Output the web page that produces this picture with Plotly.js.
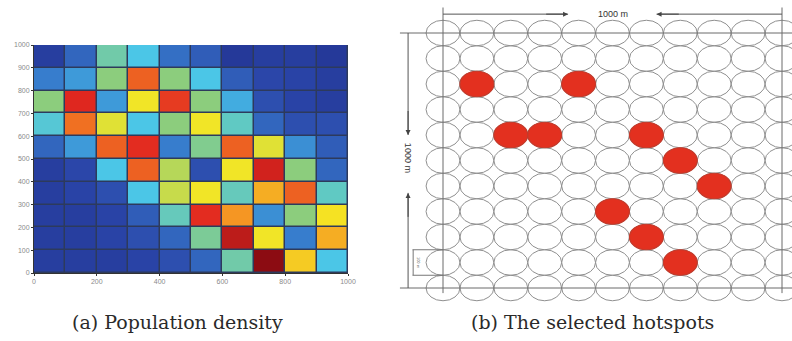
<!DOCTYPE html>
<html>
<head>
<meta charset="utf-8">
<script src="https://cdn.plot.ly/plotly-3.0.1.min.js"></script>
<style>html,body{margin:0;padding:0;background:#fff;}#chart{width:792px;height:341px;}</style>
</head>
<body>
<div id="chart"></div>
<script>
// ---------- DATA ----------
// Heatmap (a): cell centres in metres and normalised population density (rows bottom -> top)
const cellX = [50, 150, 250, 350, 450, 550, 650, 750, 850, 950];
const cellY = [50, 150, 250, 350, 450, 550, 650, 750, 850, 950];
const density = [
  [0.10, 0.10, 0.10, 0.12, 0.15, 0.20, 0.45, 1.00, 0.66, 0.38],
  [0.10, 0.10, 0.12, 0.15, 0.20, 0.47, 0.93, 0.62, 0.25, 0.70],
  [0.10, 0.10, 0.12, 0.18, 0.43, 0.87, 0.73, 0.28, 0.50, 0.63],
  [0.10, 0.12, 0.15, 0.38, 0.57, 0.62, 0.43, 0.70, 0.80, 0.42],
  [0.10, 0.13, 0.38, 0.80, 0.55, 0.15, 0.62, 0.90, 0.50, 0.20],
  [0.20, 0.30, 0.80, 0.87, 0.25, 0.48, 0.80, 0.60, 0.28, 0.18],
  [0.40, 0.78, 0.60, 0.38, 0.50, 0.62, 0.42, 0.20, 0.15, 0.15],
  [0.50, 0.88, 0.30, 0.62, 0.85, 0.50, 0.33, 0.15, 0.12, 0.10],
  [0.25, 0.30, 0.50, 0.80, 0.50, 0.38, 0.18, 0.13, 0.12, 0.10],
  [0.10, 0.20, 0.45, 0.38, 0.22, 0.18, 0.08, 0.10, 0.10, 0.08]
];
const xTicks = [0, 200, 400, 600, 800, 1000];
const yTicks = [0, 100, 200, 300, 400, 500, 600, 700, 800, 900, 1000];

// Panel (b): candidate positions (metres) and selected hotspots
const gridX = [0, 100, 200, 300, 400, 500, 600, 700, 800, 900, 1000];
const gridY = [0, 100, 200, 300, 400, 500, 600, 700, 800, 900, 1000];
const circleRadius = 50;
const hotspotX = [100, 400, 200, 300, 600, 700, 800, 500, 600, 700];
const hotspotY = [800, 800, 600, 600, 600, 500, 400, 300, 200, 100];

const captionA = "(a) Population density";
const captionB = "(b) The selected hotspots";
const dimLabel = "1000 m";
const smallLabel = "100 m";

// ---------- LAYOUT HELPERS ----------
const W = 792, H = 341;
// panel b pixel calibration: x=0 -> 443px, x=1000 -> 782px ; y=1000 -> 33px, y=0 -> 288px
const pxX0 = 443, pxX1 = 782, pxYtop = 33, pxYbot = 288;
const panelLeft = 395;
const sx = (pxX1 - pxX0) / 1000, sy = (pxYbot - pxYtop) / 1000;
const x2range = [(panelLeft - pxX0) / sx, (W - pxX0) / sx];
const y2range = [-(H - pxYbot) / sy, 1000 + pxYtop / sy];

// washed-out jet, as in the scanned figure
const jetScale = [
  [0.000, 'rgb(28,38,125)'],
  [0.125, 'rgb(42,68,168)'],
  [0.250, 'rgb(55,125,205)'],
  [0.375, 'rgb(72,198,235)'],
  [0.500, 'rgb(140,205,125)'],
  [0.625, 'rgb(245,230,35)'],
  [0.750, 'rgb(245,135,35)'],
  [0.875, 'rgb(226,40,32)'],
  [1.000, 'rgb(140,12,18)']
];

const lineCol = '#909090';
const shapes = [];
// dark grid under the heatmap cells
shapes.push({type: 'rect', xref: 'x', yref: 'y', x0: 0, x1: 1000, y0: 0, y1: 1000, fillcolor: '#2d3a5c', line: {width: 0}, layer: 'below'});
// circles
gridX.forEach(cx => gridY.forEach(cy => {
  shapes.push({type: 'circle', xref: 'x2', yref: 'y2', x0: cx - circleRadius, x1: cx + circleRadius,
    y0: cy - circleRadius, y1: cy + circleRadius, line: {color: lineCol, width: 1}, fillcolor: 'rgba(0,0,0,0)', layer: 'above'});
}));
// hotspots
hotspotX.forEach((hx, i) => {
  shapes.push({type: 'circle', xref: 'x2', yref: 'y2', x0: hx - circleRadius, x1: hx + circleRadius,
    y0: hotspotY[i] - circleRadius, y1: hotspotY[i] + circleRadius, line: {color: '#c23b2c', width: 1.2}, fillcolor: '#e3301f', layer: 'above'});
});
const xmin = gridX[0], xmax = gridX[gridX.length - 1], ymin = gridY[0], ymax = gridY[gridY.length - 1];
const L = (x0, y0, x1, y1, w, c) => shapes.push({type: 'line', xref: 'x2', yref: 'y2', x0, y0, x1, y1, line: {color: c || '#6a6a6a', width: w || 1}, layer: 'above'});
// frame lines through outer circle centres
L(-127, ymax, x2range[1], ymax);
L(-127, ymin, x2range[1], ymin);
L(xmin, 1100, xmin, -20);
L(xmax, 1100, xmax, -20);
// top dimension
const dimY = 1074;
L(xmin, dimY, 369, dimY, 1, '#555');
L(630, dimY, xmax, dimY, 1, '#555');
// left dimension
const dimX = -103;
L(dimX, ymax, dimX, 600, 1, '#555');
L(dimX, 373, dimX, ymin, 1, '#555');
// small bracket
L(-90, 150, xmin, 150, 1, '#777');
L(-90, 50, xmin, 50, 1, '#777');
L(-88, 150, -88, 50, 1, '#777');

const captionFont = {family: 'DejaVu Serif, Liberation Serif, serif', size: 19, color: '#2a2a2a'};
const annotations = [
  {xref: 'paper', yref: 'paper', x: 177 / W, y: 1 - 322 / H, text: captionA, showarrow: false, xanchor: 'center', yanchor: 'middle', font: captionFont},
  {xref: 'paper', yref: 'paper', x: 592 / W, y: 1 - 322 / H, text: captionB, showarrow: false, xanchor: 'center', yanchor: 'middle', font: captionFont},
  {xref: 'x2', yref: 'y2', x: 500, y: dimY, text: dimLabel, showarrow: false, font: {family: 'Liberation Sans, Arial', size: 9, color: '#333'}},
  {xref: 'x2', yref: 'y2', x: dimX, y: 510, text: dimLabel, showarrow: false, textangle: 90, font: {family: 'Liberation Sans, Arial', size: 9, color: '#333'}},
  {xref: 'x2', yref: 'y2', x: -72, y: 100, text: smallLabel, showarrow: false, textangle: 90, font: {family: 'Liberation Sans, Arial', size: 4, color: '#555'}},
  // arrow heads
  {xref: 'x2', yref: 'y2', axref: 'x2', ayref: 'y2', x: 369, y: dimY, ax: 300, ay: dimY, text: '', showarrow: true, arrowhead: 2, arrowsize: 1, arrowwidth: 1, arrowcolor: '#444'},
  {xref: 'x2', yref: 'y2', axref: 'x2', ayref: 'y2', x: 630, y: dimY, ax: 700, ay: dimY, text: '', showarrow: true, arrowhead: 2, arrowsize: 1, arrowwidth: 1, arrowcolor: '#444'},
  {xref: 'x2', yref: 'y2', axref: 'x2', ayref: 'y2', x: dimX, y: 600, ax: dimX, ay: 700, text: '', showarrow: true, arrowhead: 2, arrowsize: 1, arrowwidth: 1, arrowcolor: '#444'},
  {xref: 'x2', yref: 'y2', axref: 'x2', ayref: 'y2', x: dimX, y: 373, ax: dimX, ay: 273, text: '', showarrow: true, arrowhead: 2, arrowsize: 1, arrowwidth: 1, arrowcolor: '#444'}
];

const tickFont = {family: 'Liberation Sans, Arial', size: 7, color: '#8a8a8a'};

const data = [{
  type: 'heatmap', x: cellX, y: cellY, z: density, zmin: 0, zmax: 1,
  colorscale: jetScale, showscale: false, xgap: 1.5, ygap: 1.5, hoverinfo: 'skip', xaxis: 'x', yaxis: 'y'
}];
// invisible trace to instantiate the second axes
data.push({type: 'scatter', x: [xmin], y: [ymin], xaxis: 'x2', yaxis: 'y2', mode: 'markers', marker: {opacity: 0}, hoverinfo: 'skip'});

const layout = {
  width: W, height: H, margin: {l: 0, r: 0, t: 0, b: 0},
  paper_bgcolor: '#ffffff', plot_bgcolor: '#ffffff', showlegend: false,
  xaxis: {domain: [34 / W, 348 / W], range: [0, 1000], tickvals: xTicks, ticktext: xTicks.map(String), tickfont: tickFont,
          ticks: 'outside', ticklen: 2, tickcolor: '#333', showline: true, linecolor: '#333', linewidth: 1, showgrid: false, zeroline: false, fixedrange: true},
  yaxis: {domain: [1 - 273 / H, 1 - 45 / H], range: [0, 1000], tickvals: yTicks, ticktext: yTicks.map(String), tickfont: tickFont,
          ticks: 'outside', ticklen: 2, tickcolor: '#333', showline: true, linecolor: '#333', linewidth: 1, showgrid: false, zeroline: false, fixedrange: true},
  xaxis2: {domain: [panelLeft / W, 1], range: x2range, visible: false, anchor: 'y2', fixedrange: true},
  yaxis2: {domain: [0, 1], range: y2range, visible: false, anchor: 'x2', fixedrange: true},
  shapes: shapes, annotations: annotations
};

Plotly.newPlot('chart', data, layout, {staticPlot: true, displayModeBar: false});
</script>
</body>
</html>
